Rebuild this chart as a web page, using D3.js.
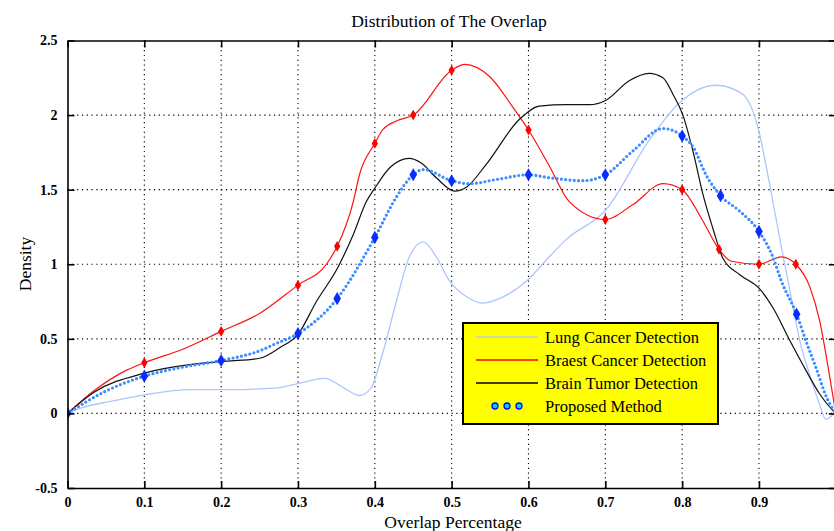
<!DOCTYPE html>
<html>
<head>
<meta charset="utf-8">
<script src="https://cdn.jsdelivr.net/npm/d3@7"></script>
<style>
  body { margin: 0; background: #fff; }
  svg { display: block; }
  text { font-family: "Liberation Serif", "Times New Roman", serif; fill: #000; }
  .tick text { font-weight: bold; font-size: 14px; }
</style>
</head>
<body>
<div id="chart"></div>
<script>
// ---- data ----
const xTicks = [0, 0.1, 0.2, 0.3, 0.4, 0.5, 0.6, 0.7, 0.8, 0.9, 1];
const yTicks = [-0.5, 0, 0.5, 1, 1.5, 2, 2.5];

const seriesNames = ["Lung Cancer Detection", "Braest Cancer Detection", "Brain Tumor Detection", "Proposed Method"];

const lungPts = [[0,0],[0.02,0.04],[0.055,0.08],[0.1,0.125],[0.16,0.16],[0.21,0.16],[0.27,0.17],[0.3,0.2],
  [0.335,0.235],[0.36,0.17],[0.38,0.12],[0.395,0.17],[0.41,0.4],[0.428,0.75],[0.445,1.05],[0.463,1.15],
  [0.48,1.05],[0.497,0.89],[0.52,0.78],[0.54,0.74],[0.562,0.77],[0.6,0.9],[0.627,1.05],[0.65,1.17],
  [0.7,1.36],[0.757,1.83],[0.796,2.08],[0.844,2.2],[0.879,2.14],[0.9,1.89],[0.913,1.56],[0.929,1.12],
  [0.94,0.83],[0.953,0.49],[0.966,0.26],[0.979,0.06],[0.987,-0.04],[0.996,-0.01],[1,0]];

const breastPts = [[0,0],[0.034,0.15],[0.077,0.29],[0.1,0.34],[0.15,0.43],[0.2,0.55],[0.25,0.67],[0.3,0.86],
  [0.337,1.0],[0.351,1.12],[0.372,1.42],[0.38,1.6],[0.4,1.81],[0.41,1.9],[0.428,1.96],[0.45,2.0],[0.5,2.3],
  [0.517,2.34],[0.549,2.26],[0.58,2.05],[0.6,1.9],[0.627,1.66],[0.653,1.42],[0.7,1.3],[0.736,1.4],[0.775,1.54],
  [0.8,1.5],[0.827,1.29],[0.848,1.1],[0.864,1.02],[0.9,1.0],[0.929,1.05],[0.948,1.0],[0.966,0.85],[0.979,0.62],
  [0.99,0.31],[1,0]];
const breastMarks = [0.1, 0.2, 0.3, 0.351, 0.4, 0.45, 0.5, 0.6, 0.7, 0.8, 0.848, 0.9, 0.948];

const brainPts = [[0,0],[0.034,0.14],[0.1,0.27],[0.164,0.33],[0.207,0.35],[0.25,0.37],[0.276,0.44],[0.3,0.53],
  [0.324,0.75],[0.352,0.98],[0.372,1.2],[0.389,1.42],[0.4,1.51],[0.42,1.65],[0.445,1.71],[0.46,1.68],[0.48,1.58],
  [0.504,1.49],[0.52,1.52],[0.545,1.67],[0.588,1.97],[0.614,2.06],[0.65,2.07],[0.679,2.07],[0.701,2.1],[0.731,2.23],
  [0.757,2.28],[0.775,2.25],[0.788,2.14],[0.801,2.0],[0.814,1.76],[0.827,1.47],[0.84,1.24],[0.853,1.04],[0.875,0.93],
  [0.9,0.84],[0.918,0.71],[0.94,0.49],[0.961,0.29],[0.979,0.13],[0.996,0.02],[1,0]];

const proposedPts = [[0,0],[0.05,0.15],[0.1,0.25],[0.15,0.31],[0.2,0.355],[0.25,0.42],[0.272,0.47],[0.3,0.535],
  [0.351,0.77],[0.4,1.18],[0.428,1.45],[0.45,1.6],[0.463,1.635],[0.5,1.56],[0.523,1.54],[0.56,1.57],[0.6,1.6],
  [0.627,1.58],[0.671,1.56],[0.7,1.6],[0.736,1.76],[0.775,1.91],[0.8,1.86],[0.815,1.78],[0.831,1.6],[0.85,1.46],
  [0.874,1.36],[0.9,1.22],[0.918,1.05],[0.929,0.89],[0.949,0.665],[0.963,0.46],[0.974,0.31],[0.987,0.12],[1,0]];
const proposedMarks = [0, 0.1, 0.2, 0.3, 0.351, 0.4, 0.45, 0.5, 0.6, 0.7, 0.8, 0.85, 0.9, 0.949];

// ---- layout ----
const width = 834, height = 531;
const x = d3.scaleLinear().domain([0, 1]).range([67.5, 835.8]);
const y = d3.scaleLinear().domain([-0.5, 2.5]).range([488, 40.5]);

const svg = d3.select("#chart").append("svg")
  .attr("width", width)
  .attr("height", height);

svg.append("rect").attr("width", width).attr("height", height).attr("fill", "#fff");

svg.append("clipPath").attr("id", "plot-clip")
  .append("rect")
  .attr("x", x(0)).attr("y", y(2.5))
  .attr("width", x(1) - x(0)).attr("height", y(-0.5) - y(2.5));

// dotted grid
const grid = svg.append("g")
  .attr("stroke", "#000")
  .attr("stroke-width", 1.1)
  .attr("stroke-dasharray", "1.2 3.6");
grid.selectAll("line.v")
  .data(xTicks.filter(d => d > 0 && d < 1))
  .join("line")
  .attr("class", "v")
  .attr("x1", d => x(d)).attr("x2", d => x(d))
  .attr("y1", y(2.5)).attr("y2", y(-0.5));
grid.selectAll("line.h")
  .data(yTicks.filter(d => d > -0.5 && d < 2.5))
  .join("line")
  .attr("class", "h")
  .attr("x1", x(0)).attr("x2", x(1))
  .attr("y1", d => y(d)).attr("y2", d => y(d));

// series
const line = d3.line()
  .x(d => x(d[0]))
  .y(d => y(d[1]))
  .curve(d3.curveMonotoneX);

const plot = svg.append("g").attr("clip-path", "url(#plot-clip)");

plot.append("path")
  .datum(lungPts)
  .attr("d", line)
  .attr("fill", "none")
  .attr("stroke", "#aec6ff")
  .attr("stroke-width", 1.3);

plot.append("path")
  .datum(breastPts)
  .attr("d", line)
  .attr("fill", "none")
  .attr("stroke", "#ff1010")
  .attr("stroke-width", 1.2);

plot.append("path")
  .datum(brainPts)
  .attr("d", line)
  .attr("fill", "none")
  .attr("stroke", "#111")
  .attr("stroke-width", 1.2);

plot.append("path")
  .datum(proposedPts)
  .attr("d", line)
  .attr("fill", "none")
  .attr("stroke", "#3b8cff")
  .attr("stroke-width", 3.2)
  .attr("stroke-linecap", "round")
  .attr("stroke-dasharray", "0 4.3");

const diamond = d3.symbol().type(d3.symbolDiamond);

const lookup = (pts, xv) => pts.find(p => p[0] === xv);

plot.selectAll("path.bm")
  .data(breastMarks.map(v => lookup(breastPts, v)))
  .join("path")
  .attr("class", "bm")
  .attr("d", diamond.size(34)())
  .attr("transform", d => `translate(${x(d[0])},${y(d[1])})`)
  .attr("fill", "#ff0000");

plot.selectAll("path.pm")
  .data(proposedMarks.map(v => lookup(proposedPts, v)))
  .join("path")
  .attr("class", "pm")
  .attr("d", d3.symbol().type(d3.symbolDiamond).size(50)())
  .attr("transform", d => `translate(${x(d[0])},${y(d[1])})`)
  .attr("fill", "#0a2cff");

// axes (ticks point inward like the original)
const fmt = d => String(d);
const axisG = svg.append("g");

axisG.append("g")
  .attr("transform", `translate(0,${y(-0.5)})`)
  .call(d3.axisBottom(x).tickValues(xTicks).tickFormat(fmt).tickSizeInner(-7).tickSizeOuter(0).tickPadding(9));

axisG.append("g")
  .attr("transform", `translate(0,${y(2.5)})`)
  .call(d3.axisTop(x).tickValues(xTicks).tickFormat("").tickSizeInner(-7).tickSizeOuter(0));

axisG.append("g")
  .attr("transform", `translate(${x(0)},0)`)
  .call(d3.axisLeft(y).tickValues(yTicks).tickFormat(fmt).tickSizeInner(-7).tickSizeOuter(0).tickPadding(10));

axisG.append("g")
  .attr("transform", `translate(${x(1)},0)`)
  .call(d3.axisRight(y).tickValues(yTicks).tickFormat("").tickSizeInner(-7).tickSizeOuter(0));

axisG.selectAll(".domain").attr("stroke", "#000").attr("stroke-width", 1.6);
axisG.selectAll(".tick line").attr("stroke", "#000").attr("stroke-width", 1.6);
axisG.selectAll(".tick text").attr("font-family", null).attr("font-size", null);

// titles
svg.append("text")
  .attr("x", 449).attr("y", 27)
  .attr("text-anchor", "middle")
  .style("font-size", "17.5px")
  .text("Distribution of The Overlap");

svg.append("text")
  .attr("x", 453).attr("y", 528)
  .attr("text-anchor", "middle")
  .style("font-size", "17.5px")
  .text("Overlap Percentage");

svg.append("text")
  .attr("transform", "translate(31,264) rotate(-90)")
  .attr("text-anchor", "middle")
  .style("font-size", "17.5px")
  .text("Density");

// legend
const legend = svg.append("g").attr("transform", "translate(463,323)");
legend.append("rect")
  .attr("width", 255).attr("height", 101)
  .attr("fill", "#ffff00")
  .attr("stroke", "#000")
  .attr("stroke-width", 2);

const legendRows = [
  { name: seriesNames[0], color: "#c2c8d8", kind: "line" },
  { name: seriesNames[1], color: "#ff0000", kind: "line" },
  { name: seriesNames[2], color: "#000", kind: "line" },
  { name: seriesNames[3], color: "#0000ff", kind: "dots" }
];

const row = legend.selectAll("g.row")
  .data(legendRows)
  .join("g")
  .attr("class", "row")
  .attr("transform", (d, i) => `translate(0,${14 + i * 23})`);

row.filter(d => d.kind === "line")
  .append("line")
  .attr("x1", 13).attr("x2", 75)
  .attr("stroke", d => d.color)
  .attr("stroke-width", 1.5);

row.filter(d => d.kind === "dots")
  .selectAll("circle")
  .data([32, 44, 56])
  .join("circle")
  .attr("cx", d => d).attr("cy", 0).attr("r", 3)
  .attr("fill", "#00d4ff")
  .attr("stroke", "#0000ff")
  .attr("stroke-width", 1.3);

row.append("text")
  .attr("x", 82).attr("y", 0)
  .attr("dy", "0.35em")
  .style("font-size", "16.5px")
  .text(d => d.name);
</script>
</body>
</html>
